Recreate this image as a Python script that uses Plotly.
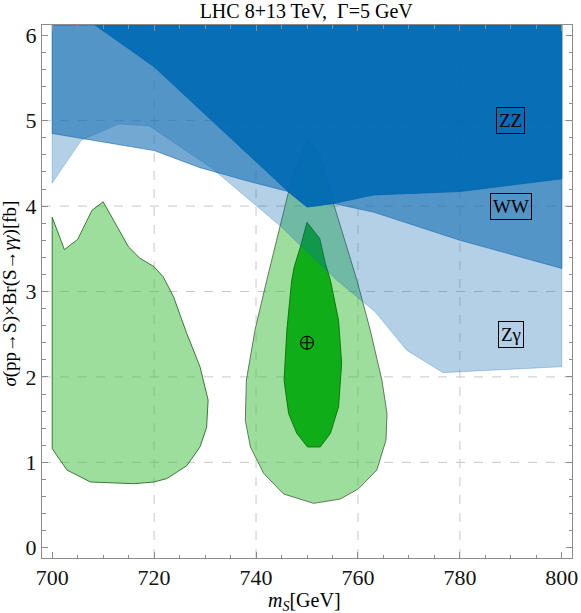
import plotly.graph_objects as go

# excluded regions: lower boundary of each (filled up to top of the frame)
zg_x = [700, 705.7, 713, 719, 731.4, 744.7, 755.9, 763.4, 769.6, 776.7, 800]
zg_y = [4.27, 4.77, 4.96, 4.94, 4.44, 3.77, 3.13, 2.76, 2.31, 2.05, 2.12]

ww_x = [700, 705.8, 720, 729, 738.5, 746.3, 750, 755.2, 763, 780, 800]
ww_y = [4.85, 4.79, 4.65, 4.45, 4.29, 4.17, 3.99, 4.03, 3.93, 3.6, 3.27]

zz_x = [708.4, 720, 746.3, 750, 755.2, 763, 780, 800]
zz_y = [6.12, 5.63, 4.17, 3.99, 4.03, 4.13, 4.17, 4.32]

# fit regions (closed contours)
left_x = [700, 702.4, 705, 707.8, 710, 715, 717.2, 720, 721.8, 723.8, 726.4, 729,
          730.6, 730.3, 729, 726.4, 722.5, 720, 716, 707.5, 702.9, 700, 700]
left_y = [3.87, 3.49, 3.61, 3.95, 4.05, 3.52, 3.39, 3.29, 3.17, 2.94, 2.51, 2.12,
          1.73, 1.41, 1.18, 0.96, 0.81, 0.77, 0.75, 0.77, 0.91, 1.16, 3.87]

right_x = [750, 752.5, 755.2, 759.8, 762.4, 764.7, 765.7, 765.5, 763.7, 760.1, 756.5,
           751.3, 745.4, 741.5, 738.9, 737.9, 738.1, 739.8, 742.1, 746.4, 747.7, 750]
right_y = [4.78, 4.6, 4.03, 3.13, 2.55, 1.96, 1.57, 1.26, 0.91, 0.69, 0.57,
           0.52, 0.63, 0.87, 1.18, 1.49, 1.96, 2.55, 3.13, 4.17, 4.4, 4.78]

inner_x = [750, 752.5, 753.6, 754.6, 756.2, 756.8, 756.2, 754.6, 752.6, 750.1, 748,
           746.4, 745.5, 746.05, 747, 747.5, 748.7, 750]
inner_y = [3.81, 3.62, 3.33, 3.13, 2.66, 2.16, 1.65, 1.34, 1.18, 1.18, 1.34,
           1.57, 1.96, 2.55, 3.13, 3.29, 3.52, 3.81]

best_fit = (750, 2.4)

labels = ['ZZ', 'WW', 'Zγ']
label_x = [790, 790, 790]
label_y = [5.0, 4.0, 2.5]

grid_x = [720, 740, 760, 780]
grid_y = [1, 2, 3, 4, 5]

X_RANGE = [698, 802]
Y_RANGE = [-0.12, 6.12]

SERIF = 'Liberation Serif, Times New Roman, serif'


def region_above(xs, ys):
    # close the boundary along the top edge of the frame
    px = list(xs) + [xs[-1], xs[0], xs[0]]
    py = list(ys) + [Y_RANGE[1], Y_RANGE[1], ys[0]]
    return px, py


traces = []

for xs, ys, fill, edge in [
    (left_x, left_y, 'rgba(60,190,60,0.5)', 'rgba(40,110,40,0.9)'),
    (right_x, right_y, 'rgba(60,190,60,0.5)', 'rgba(80,110,80,0.9)'),
    (inner_x, inner_y, 'rgba(0,168,10,0.9)', 'rgba(10,110,10,0.9)'),
]:
    traces.append(go.Scatter(x=xs, y=ys, mode='lines', fill='toself', fillcolor=fill,
                             line=dict(color=edge, width=1), hoverinfo='skip'))

for xs, ys, fill, edge in [
    (zg_x, zg_y, 'rgba(20,110,180,0.32)', 'rgba(20,110,180,0.35)'),
    (ww_x, ww_y, 'rgba(20,110,180,0.6)', 'rgba(20,100,170,0.7)'),
    (zz_x, zz_y, 'rgba(0,105,178,0.9)', 'rgba(0,100,170,0.95)'),
]:
    px, py = region_above(xs, ys)
    traces.append(go.Scatter(x=px, y=py, mode='lines', fill='toself', fillcolor=fill,
                             line=dict(color=edge, width=0.8), hoverinfo='skip'))

traces.append(go.Scatter(
    x=[best_fit[0]], y=[best_fit[1]], mode='markers',
    marker=dict(symbol='circle-cross-open', size=13, color='black', line=dict(width=1.2)),
    hoverinfo='skip'
))

fig = go.Figure(traces)

shapes = []
for gx in grid_x:
    shapes.append(dict(type='line', xref='x', yref='paper', x0=gx, x1=gx, y0=0, y1=1,
                       layer='below', line=dict(color='rgb(200,200,200)', width=1, dash='dash')))
for gy in grid_y:
    shapes.append(dict(type='line', xref='paper', yref='y', x0=0, x1=1, y0=gy, y1=gy,
                       layer='below', line=dict(color='rgb(200,200,200)', width=1, dash='dash')))

annotations = []
for text, ax, ay in zip(labels, label_x, label_y):
    annotations.append(dict(x=ax, y=ay, xref='x', yref='y', text=text, showarrow=False,
                            font=dict(family=SERIF, size=19, color='black'),
                            bordercolor='black', borderwidth=1, borderpad=2))

annotations.append(dict(x=0.496, y=-0.081, xref='paper', yref='paper',
                        text='<i>m</i><sub><i>S</i></sub>[GeV]', showarrow=False,
                        font=dict(family=SERIF, size=20, color='black'),
                        xanchor='center', yanchor='middle'))
annotations.append(dict(x=-0.0604, y=0.496, xref='paper', yref='paper',
                        text='<i>σ</i>(pp→S)×Br(S→<i>γγ</i>)[fb]', showarrow=False,
                        textangle=-90, font=dict(family=SERIF, size=19, color='black'),
                        xanchor='center', yanchor='middle'))

axis_common = dict(
    showgrid=False, zeroline=False, showline=True, linecolor='rgb(140,140,140)',
    linewidth=1, mirror='ticks', ticks='inside', ticklen=6, tickcolor='rgb(140,140,140)',
    tickfont=dict(family=SERIF, size=22, color='rgb(20,20,20)'), automargin=False,
)

fig.update_layout(
    width=581, height=613,
    margin=dict(l=42, r=9, t=25, b=55, autoexpand=False),
    plot_bgcolor='white', paper_bgcolor='white',
    showlegend=False,
    title=dict(text='LHC 8+13 TeV,  Γ=5 GeV', x=0.527, xanchor='center',
               y=0.982, yref='container', yanchor='middle',
               font=dict(family=SERIF, size=20, color='black')),
    xaxis=dict(range=X_RANGE, tickvals=[700, 720, 740, 760, 780, 800],
               minor=dict(ticks='inside', ticklen=3.5, dtick=5, tick0=700,
                          tickcolor='rgb(140,140,140)', showgrid=False),
               **axis_common),
    yaxis=dict(range=Y_RANGE, tickvals=[0, 1, 2, 3, 4, 5, 6],
               minor=dict(ticks='inside', ticklen=3.5, dtick=0.2, tick0=0,
                          tickcolor='rgb(140,140,140)', showgrid=False),
               **axis_common),
    shapes=shapes,
    annotations=annotations,
)

# the page body has a default 8px margin, remove it so the figure fills the window
fig.write_html("out.html", config={'displayModeBar': False},
               post_script="document.body.style.margin='0';")
